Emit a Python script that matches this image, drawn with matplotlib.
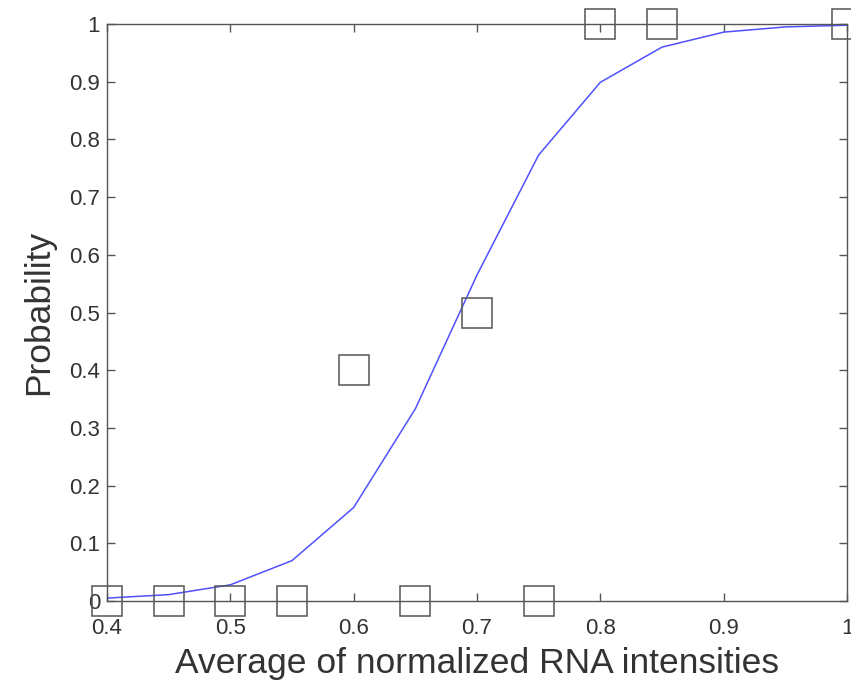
import matplotlib.pyplot as plt

# fitted logistic curve
fit_x = [0.4, 0.45, 0.5, 0.55, 0.6, 0.65, 0.7, 0.75, 0.8, 0.85, 0.9, 0.95, 1.0]
fit_y = [0.005, 0.011, 0.028, 0.07, 0.162, 0.333, 0.565, 0.773, 0.899, 0.96, 0.986, 0.995, 0.998]

# observed proportions
obs_x = [0.4, 0.45, 0.5, 0.55, 0.6, 0.65, 0.7, 0.75, 0.8, 0.85, 1.0]
obs_y = [0, 0, 0, 0, 0.4, 0, 0.5, 0, 1, 1, 1]

xticks = [0.4, 0.5, 0.6, 0.7, 0.8, 0.9, 1.0]
xticklabels = ['0.4', '0.5', '0.6', '0.7', '0.8', '0.9', '1']
yticks = [0, 0.1, 0.2, 0.3, 0.4, 0.5, 0.6, 0.7, 0.8, 0.9, 1.0]
yticklabels = ['0', '0.1', '0.2', '0.3', '0.4', '0.5', '0.6', '0.7', '0.8', '0.9', '1']

plt.rcParams['font.family'] = ['Liberation Sans', 'DejaVu Sans']

fig = plt.figure(figsize=(8.51, 6.87), dpi=100)
ax = fig.add_axes([0.1257, 0.1252, 0.8696, 0.8398])

ax.plot(fit_x, fit_y, color='#5050ff', lw=1.1)
ax.plot(obs_x, obs_y, 's', ms=21, mfc='none', mec='#555555', mew=1.1, clip_on=False)

ax.set_xlim(0.4, 1.0)
ax.set_ylim(0, 1)
ax.set_xticks(xticks)
ax.set_xticklabels(xticklabels)
ax.set_yticks(yticks)
ax.set_yticklabels(yticklabels)

for s in ax.spines.values():
    s.set_color('#555555')
    s.set_linewidth(1.0)
ax.tick_params(direction='in', length=6, width=1.0, color='#555555',
               top=True, right=True, labelsize=16, labelcolor='#333333', pad=5)
ax.tick_params(axis='x', pad=12)

ax.set_xlabel('Average of normalized RNA intensities', fontsize=25.5, color='#333333', labelpad=6)
ax.set_ylabel('Probability', fontsize=25.5, color='#333333', labelpad=10)

fig.savefig('out.png', dpi=100)
